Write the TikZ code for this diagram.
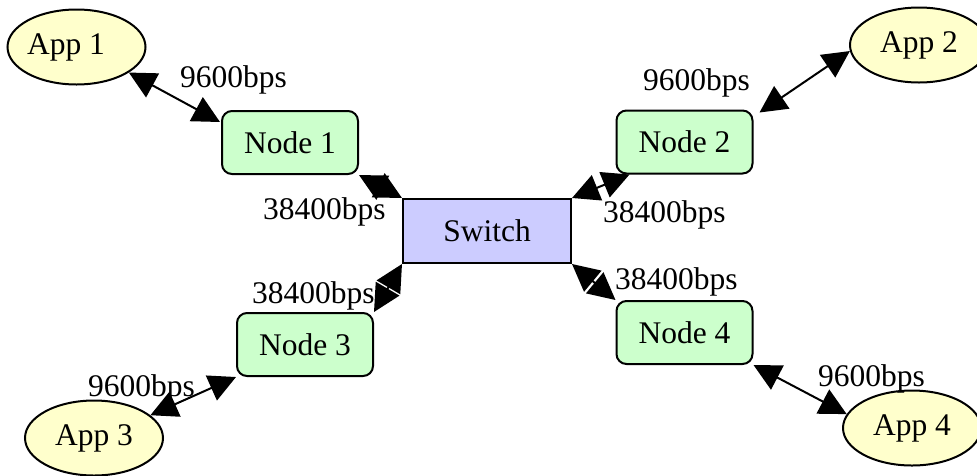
\documentclass[tikz,border=0pt]{standalone}
\usepackage{fontspec}
\setmainfont{Liberation Serif}
\usetikzlibrary{arrows.meta,shapes.geometric,calc}
\definecolor{appfill}{HTML}{FFFFCC}
\definecolor{nodefill}{HTML}{CCFFCC}
\definecolor{swfill}{HTML}{CCCCFF}
\tikzset{
  every node/.style={font=\fontsize{31.5}{36}\selectfont, inner sep=0pt},
  app/.style={ellipse, draw, line width=2pt, fill=appfill, minimum width=138pt, minimum height=75pt},
  host/.style={rectangle, rounded corners=10pt, draw, line width=2pt, fill=nodefill, minimum width=136pt, minimum height=63pt},
  switchbox/.style={rectangle, draw, line width=2pt, fill=swfill, minimum width=168pt, minimum height=64pt},
  link/.style={line width=2pt, {Triangle[length=27pt,width=27pt]}-{Triangle[length=27pt,width=27pt]}},
  rate/.style={anchor=base west}
}
\begin{document}
\begin{tikzpicture}[x=1pt, y=-1pt]
  \useasboundingbox (0,0) rectangle (977,475);
  \clip (0,0) rectangle (977,475);

  % applications
  \node[app] (app1) at (76.5,47) {\hspace*{-21pt}App 1};
  \node[app] (app2) at (919,45) {App 2};
  \node[app] (app3) at (94,438) {App 3};
  \node[app] (app4) at (912,428) {App 4};

  % network nodes
  \node[host] (n1) at (290,142.5) {Node 1};
  \node[host] (n2) at (684.5,142) {Node 2};
  \node[host] (n3) at (305,344.5) {Node 3};
  \node[host] (n4) at (684.5,332.5) {Node 4};

  % central switch
  \node[switchbox] (sw) at (487,231) {Switch};

  % serial links between applications and nodes
  \draw[link] (app1.-26) -- ($(n1.north west)+(-1,12)$);
  \draw[link] ($(n2.north east)+(6,3)$) -- (app2.185);
  \draw[link] (n3.south west) -- (app3.22);
  \draw[link] (n4.south east) -- (app4.168);

  % links from nodes to the switch
  \draw[link] (n1.south east) -- (sw.north west);
  \draw[link] (sw.north east) -- ($(n2.south west)+(14,0)$);
  \draw[link] (sw.south west) -- (n3.north east);
  \draw[link] (sw.south east) -- (n4.north west);

  % link rates
  \node[rate] (r1) at (180,87.5) {9600bps};
  \node[rate] (r2) at (643,90.5) {9600bps};
  \node[rate] (r3) at (88,396.5) {9600bps};
  \node[rate] (r4) at (818,386) {9600bps};
  \node[rate] (s1) at (263,219.5) {38400bps};
  \node[rate] (s2) at (603,222.5) {38400bps};
  \node[rate] (s3) at (252,303.5) {38400bps};
  \node[rate] (s4) at (615,289.5) {38400bps};
\end{tikzpicture}
\end{document}
